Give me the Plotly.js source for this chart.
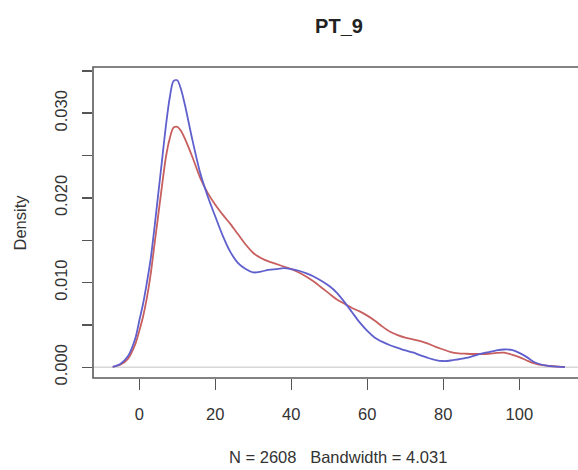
<!DOCTYPE html>
<html>
<head>
<meta charset="utf-8">
<script src="https://cdn.plot.ly/plotly-3.0.1.min.js"></script>
<style>html,body{margin:0;padding:0;background:#fff;}#chart{width:578px;height:470px;}</style>
</head>
<body>
<div id="chart"></div>
<script>
// Density estimates (density values x 1e-3)
const xBlue = [-7,-5,-3,-1,0,1,2,3,4,5,6,7,8,9,10,11,12,14,16,18,20,22,24,26,28,30,32,34,36,38,40,42,44,46,48,50,52,54,56,58,60,62,64,66,68,70,72,74,76,78,80,82,84,86,88,90,92,94,96,98,100,102,104,106,108,110,112];
const dBlue = [0.05,0.4,1.3,3.5,5.5,7.5,10.0,12.8,16.5,20.5,24.5,28.5,31.8,33.8,33.9,32.8,31.0,26.8,23.0,20.2,17.8,15.5,13.6,12.3,11.6,11.2,11.3,11.5,11.6,11.7,11.6,11.4,11.1,10.7,10.2,9.6,8.8,7.7,6.5,5.3,4.3,3.5,3.0,2.6,2.3,2.0,1.75,1.4,1.1,0.85,0.74,0.8,0.95,1.1,1.35,1.6,1.8,2.0,2.1,2.05,1.7,1.2,0.6,0.3,0.15,0.07,0.03];
const xRed = [-7,-5,-3,-1,0,1,2,3,4,5,6,7,8,9,10,11,12,14,16,18,20,22,24,26,28,30,32,34,36,38,40,42,44,46,48,50,52,54,56,58,60,62,64,66,68,70,72,74,76,78,80,82,84,86,88,90,92,94,96,98,100,102,104,106,108,110,112];
const dRed = [0.05,0.3,1.0,2.8,4.3,6.0,8.2,11.0,14.5,18.0,21.5,24.8,27.0,28.3,28.4,27.9,27.0,24.8,22.4,20.6,19.2,18.0,16.9,15.7,14.5,13.5,12.9,12.5,12.2,11.9,11.6,11.2,10.7,10.1,9.4,8.7,8.0,7.5,7.0,6.6,6.1,5.5,4.8,4.2,3.8,3.5,3.3,3.1,2.8,2.4,2.1,1.8,1.65,1.6,1.57,1.57,1.6,1.7,1.73,1.5,1.2,0.8,0.45,0.25,0.15,0.08,0.05];
const xTickVals = [0,20,40,60,80,100];
const xTickText = ["0","20","40","60","80","100"];
const yTickVals = [0,0.005,0.010,0.015,0.020,0.025,0.030,0.035];
const yTickText = ["0.000","","0.010","","0.020","","0.030",""];
const titleText = "PT_9";
const yLabel = "Density";
const subText = "N = 2608\u00a0\u00a0\u00a0Bandwidth = 4.031";

const toDens = a => a.map(v => v / 1000);
const font = "Liberation Sans, Arial, sans-serif";
const txt = "#333333";

const traces = [
  {x: xRed, y: toDens(dRed), mode: "lines", line: {color: "rgb(200,95,95)", width: 1.8, shape: "spline", smoothing: 0.8}, hoverinfo: "skip"},
  {x: xBlue, y: toDens(dBlue), mode: "lines", line: {color: "rgb(95,95,205)", width: 1.8, shape: "spline", smoothing: 0.8}, hoverinfo: "skip"}
];

const layout = {
  width: 578, height: 470,
  margin: {l: 93, r: 0, t: 67, b: 92, pad: 0},
  paper_bgcolor: "#ffffff", plot_bgcolor: "#ffffff",
  showlegend: false,
  font: {family: font, size: 16.5, color: txt},
  title: {text: "<b>" + titleText + "</b>", font: {family: font, size: 20, color: "#222"},
          xref: "container", x: 339/578, xanchor: "center", yref: "container", y: 1 - 26/470, yanchor: "middle"},
  xaxis: {range: [-12.18, 115.45], showgrid: false, zeroline: false, showline: false,
          tickmode: "array", tickvals: xTickVals, ticktext: xTickText,
          ticks: "outside", ticklen: 11, tickwidth: 1.5, tickcolor: "#555",
          ticklabelstandoff: 10, tickfont: {family: font, size: 16.5, color: txt}, fixedrange: true},
  yaxis: {range: [-0.001265, 0.03546], showgrid: false, zeroline: false, showline: false,
          tickmode: "array", tickvals: yTickVals, ticktext: yTickText, tickangle: -90,
          ticks: "outside", ticklen: 10, tickwidth: 1.5, tickcolor: "#555",
          ticklabelstandoff: 8, tickfont: {family: font, size: 16.5, color: txt}, fixedrange: true},
  shapes: [
    {type: "line", xref: "paper", yref: "y", x0: 0, x1: 1, y0: 0, y1: 0, line: {color: "rgb(215,215,215)", width: 1.5}, layer: "below"},
    {type: "rect", xref: "paper", yref: "paper", x0: 0, x1: 1.03, y0: 0, y1: 1, line: {color: "#5a5a5a", width: 1.6}}
  ],
  annotations: [
    {text: yLabel, xref: "paper", yref: "paper", x: (19-93)/485, y: 0.5, xanchor: "center", yanchor: "middle",
     textangle: -90, showarrow: false, font: {family: font, size: 16.5, color: txt}},
    {text: subText, xref: "paper", yref: "paper", x: (337.5-93)/485, y: (378-456.7)/311, xanchor: "center", yanchor: "middle",
     showarrow: false, font: {family: font, size: 16.5, color: txt}}
  ]
};

Plotly.newPlot("chart", traces, layout, {staticPlot: true, displayModeBar: false});
</script>
</body>
</html>
